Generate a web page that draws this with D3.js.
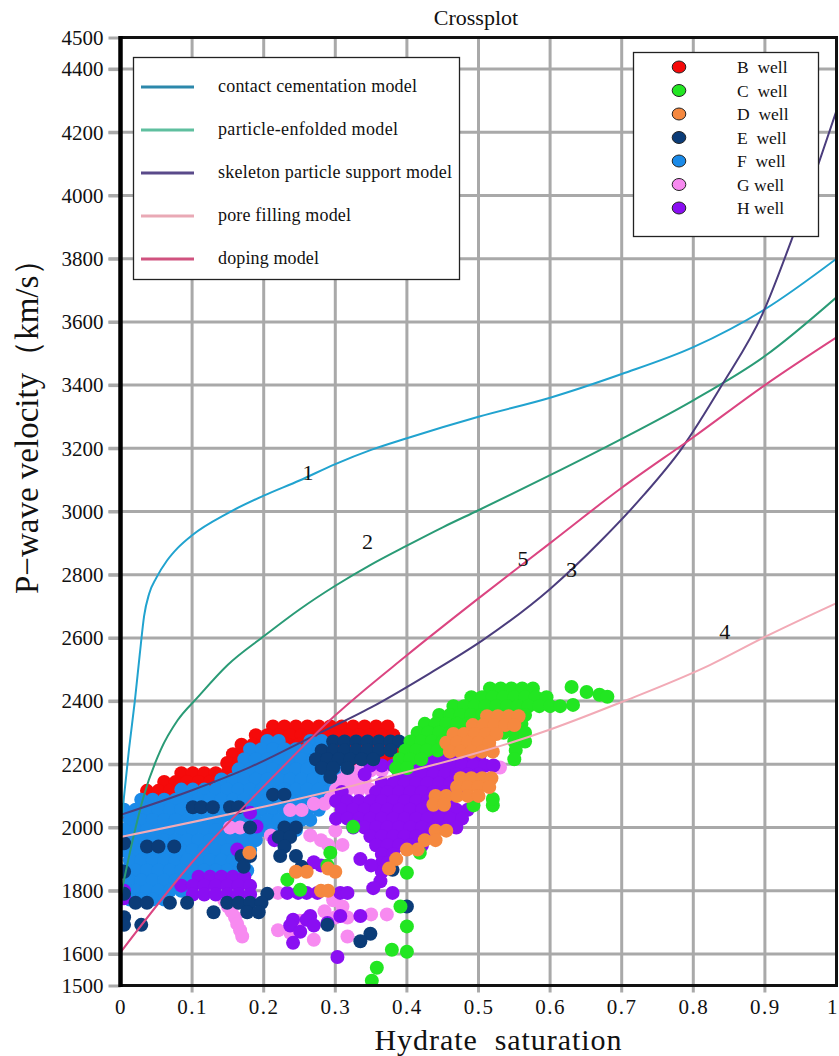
<!DOCTYPE html>
<html>
<head>
<meta charset="utf-8">
<script src="https://cdn.jsdelivr.net/npm/d3@7"></script>
<style>
  body { margin: 0; background: #fff; }
  svg { display: block; }
  text { font-family: "Liberation Serif", "Times New Roman", serif; fill: #111; }
</style>
</head>
<body>
<svg id="chart"></svg>
<script>
// ---- data ----
const xTicks = [0, 0.1, 0.2, 0.3, 0.4, 0.5, 0.6, 0.7, 0.8, 0.9, 1]
const xTickLabels = ['0', '0.1', '0.2', '0.3', '0.4', '0.5', '0.6', '0.7', '0.8', '0.9', '1']
const yTicks = [1500, 1600, 1800, 2000, 2200, 2400, 2600, 2800, 3000, 3200, 3400, 3600, 3800, 4000, 4200, 4400, 4500]

const modelNames = ['contact cementation model', 'particle-enfolded model', 'skeleton particle support model', 'pore filling model', 'doping model']
const curveTags = ['1', '2', '3', '4', '5']

// [saturation, velocity]
const contactCementation = [[0,1980],[.005,2100],[.012,2250],[.02,2400],[.027,2550],[.033,2670],[.04,2740],[.05,2790],[.065,2845],[.08,2885],[.1,2925],[.15,2995],[.2,3050],[.25,3098],[.3,3150],[.35,3195],[.4,3232],[.5,3300],[.6,3360],[.7,3435],[.8,3520],[.9,3640],[1,3800]]
const particleEnfolded = [[0,1780],[.017,1960],[.032,2096],[.056,2245],[.08,2340],[.107,2410],[.15,2515],[.2,2605],[.25,2690],[.3,2765],[.35,2832],[.4,2892],[.45,2950],[.5,3004],[.6,3115],[.7,3230],[.8,3352],[.9,3492],[1,3678]]
const skeletonSupport = [[0,2040],[.1,2118],[.181,2191],[.27,2290],[.35,2380],[.432,2488],[.506,2593],[.6,2755],[.67,2905],[.73,3050],[.784,3200],[.84,3400],[.897,3627],[.937,3858],[1,4269]]
const poreFilling = [[0,1970],[.32,2130],[.6,2310],[.7,2397],[.823,2514],[.9,2603],[1,2710]]
const doping = [[0,1605],[.1,1890],[.2,2130],[.3,2355],[.4,2545],[.5,2725],[.6,2900],[.7,3075],[.8,3235],[.9,3400],[1,3551]]

// where the curve numbers sit [saturation, velocity]
const tagAt = [[.262,3125],[.345,2905],[.63,2815],[.844,2620],[.562,2850]]

const wellNames = ['B  well', 'C  well', 'D  well', 'E  well', 'F  well', 'G well', 'H well']

// well samples as rows: [velocity, saturation, saturation, ...]
const wellB = [
  [2320,.213,.229,.245,.261,.277,.293,.309,.325,.341,.357,.373],
  [2292,.189,.205,.221,.237,.253,.269,.285,.301,.317,.333,.349,.365,.381],
  [2262,.169,.185,.201,.217,.233,.249,.265,.281,.297,.313,.329,.345,.361,.377,.389],
  [2232,.157,.173,.189,.205,.221,.237,.253,.269,.285,.301,.317,.333,.349,.365,.381],
  [2204,.149,.165,.181,.197,.309,.325,.341,.357,.373,.385],
  [2172,.085,.101,.117,.133,.149,.165],
  [2144,.061,.077,.093,.109,.125],
  [2116,.037,.053,.069,.085],
  [2030,.013,.029,.045,.061,.077],
  [2004,.013,.029]
]
const wellC = [
  [2440,.516,.531,.546,.561,.576],
  [2412,.49,.505,.52,.535,.55,.565,.58,.595],
  [2384,.465,.48,.495,.51,.525,.54,.555,.57,.585,.6,.614],
  [2356,.445,.46,.475,.49,.505,.52,.535,.55,.565],
  [2328,.425,.44,.455,.47,.485,.5,.515,.53,.545,.56],
  [2300,.415,.43,.445,.46,.475,.49,.505,.52,.535,.55,.565],
  [2272,.405,.42,.435,.45,.465,.48,.55,.565],
  [2244,.398,.413,.428,.443,.552],
  [2216,.39,.405,.42,.55],
  [2188,.385,.4],
  [2445,.63],[2429,.651],[2420,.669],[2414,.68],[2388,.632],
  [2070,.493,.52],[2090,.52],[2002,.325],[1920,.418,.293],[1880,.289],[1857,.4],
  [1835,.233],[1803,.251],[1750,.391],[1687,.4],[1613,.379],[1607,.4],[1556,.358],[1515,.351]
]
const wellD = [
  [2352,.512,.527,.542,.556],
  [2324,.492,.507,.522,.537,.55],
  [2296,.465,.48,.495,.51,.525],
  [2268,.455,.47,.485,.5,.515],
  [2240,.46,.475,.49,.505,.52],
  [2156,.475,.49,.505,.518],
  [2128,.47,.485,.5,.515],
  [2100,.44,.455,.47,.485,.5],
  [2072,.437,.452],
  [1990,.44,.455],[1960,.425,.44],[1930,.4,.415],[1900,.385],[1870,.375,.29],
  [1860,.3,.245,.26],[1920,.18],[1800,.28,.29]
]
const wellE = [
  [2272,.297,.313,.329,.345,.361,.377,.389],
  [2244,.281,.297,.313,.329,.345,.361,.377],
  [2216,.273,.289,.305,.321,.337,.353],
  [2188,.281,.297,.317],
  [2160,.293],
  [2104,.213,.229],
  [2064,.101,.113,.129,.153,.165],
  [2000,.181,.229,.245],
  [1970,.221,.237],
  [1940,.037,.053,.075,.229],
  [1950,.005],
  [1910,.169,.181,.223,.245],
  [1876,.172,.253],
  [1866,.38],
  [1860,.005],
  [1790,.005,.205],
  [1762,.021,.037,.069,.093,.149,.165,.181,.197],
  [1750,.4],
  [1732,.13,.177,.193],
  [1716,.005],
  [1692,.005,.029,.289],
  [1664,.349],
  [1640,.335]
]
const wellF = [
  [2274,.205,.221,.265,.281],
  [2248,.181,.197,.213,.229,.245,.261,.277,.293],
  [2216,.173,.189,.205,.221,.237,.253,.269,.285,.301],
  [2184,.165,.181,.197,.213,.229,.245,.261,.277,.293,.309],
  [2152,.141,.157,.173,.189,.205,.221,.237,.253,.269,.285,.301],
  [2120,.085,.101,.117,.133,.149,.165,.181,.197,.213,.229,.245,.261,.277,.293],
  [2088,.029,.045,.061,.077,.093,.109,.125,.141,.157,.173,.189,.205,.221,.237,.253,.269,.285],
  [2056,.005,.021,.037,.053,.069,.085,.101,.117,.133,.149,.165,.181,.197,.213,.229,.245,.261,.277],
  [2024,.013,.029,.045,.061,.077,.093,.109,.125,.141,.157,.173,.189,.205,.221,.237,.253,.265],
  [1992,.005,.021,.037,.053,.069,.085,.101,.117,.133,.149,.165,.181,.197,.213,.229,.245],
  [1960,.013,.029,.045,.061,.077,.093,.109,.125,.141,.157,.173,.189],
  [1928,.005,.021,.037,.053,.069,.085,.101,.117,.133,.149,.165,.181],
  [1896,.013,.029,.045,.061,.077,.093,.109,.125,.141,.157,.173],
  [1864,.005,.021,.037,.053,.069,.085,.101,.117,.133,.149,.165,.177],
  [1832,.013,.029,.045,.061,.077,.093,.109],
  [1800,.005,.021,.037,.053,.069,.085,.097],
  [1772,.013,.029,.045,.061]
]
const wellG = [
  [2236,.445,.465],
  [2180,.317,.333,.349,.365],
  [2150,.309,.325,.341],
  [2120,.301,.317,.333,.349],
  [2090,.293],[2075,.27,.285],[2055,.237,.253],[2000,.153,.167],[1990,.3],
  [1975,.265,.21],[1960,.28,.225],[1945,.29,.31],[2190,.516,.53],
  [1793,.22],[1770,.145,.297],[1750,.15,.31],[1735,.155,.285],[1725,.35,.372],
  [1715,.16,.3,.317],[1705,.25],[1695,.163],[1675,.167,.22],[1667,.237],[1655,.17,.317],[1645,.27]
]
const wellH = [
  [1844,.109,.125,.141,.157,.173],
  [1816,.085,.101,.117,.133,.149,.165,.181],
  [1788,.101,.117,.133,.149,.165,.181],
  [1800,.005],[1776,.005],
  [2047,.181],[2003,.19],[1930,.163],[1960,.215,.23],[1985,.23],
  [2224,.317,.437,.453,.469,.485,.501],
  [2196,.349,.365,.381,.397,.413,.429,.445,.461,.477,.493,.509,.521],
  [2168,.341,.389,.405,.421,.437,.453,.469,.485,.5],
  [2140,.365,.381,.397,.413,.429,.445,.461,.477],
  [2112,.309,.357,.373,.389,.405,.421,.437,.453,.469],
  [2084,.301,.317,.333,.349,.365,.381,.397,.413,.429,.445,.461],
  [2056,.309,.325,.341,.357,.373,.389,.405,.421,.437,.453,.469,.485],
  [2028,.301,.317,.333,.349,.365,.381,.397,.413,.429,.445,.461,.477],
  [2000,.325,.341,.357,.373,.389,.405,.421,.437,.453,.469],
  [1972,.349,.365,.381,.397,.413,.429],
  [1944,.357,.373,.389,.405,.421],
  [1916,.365,.381],[1888,.365,.373],[1860,.365],[1830,.363],
  [1793,.233,.248,.26,.275,.307,.317,.38],[1808,.353],[1900,.335],[1880,.28,.35],[1890,.27],
  [1720,.265,.307,.335],[1708,.241,.26],[1690,.237,.27],[1698,.289],[1670,.251],[1635,.241],[1590,.303]
]

// ---- styles ----
const curveColors = ['#21a3cf', '#2a9b76', '#4b3d7d', '#f2aab6', '#db4581']
const legendLineColors = ['#2c88ab', '#5fbf9f', '#5a4a8a', '#e9a9b5', '#d0527f']
const wellColors = ['#f50a0a', '#22e622', '#f5883f', '#0b3c78', '#1a8ae8', '#f78af0', '#8a0ef2']

const W = 839, H = 1056

const svg = d3.select('#chart').attr('width', W).attr('height', H)

const x = d3.scaleLinear().domain([0, 1]).range([120.5, 836.5])
const y = d3.scaleLinear().domain([1500, 4500]).range([985.5, 37.5])

// grid
svg.append('g').selectAll('line')
  .data(xTicks.slice(1, -1))
  .join('line')
  .attr('x1', d => x(d)).attr('x2', d => x(d))
  .attr('y1', y(4500)).attr('y2', y(1500) + 7)
  .attr('stroke', '#a9a9a9').attr('stroke-width', 3)

svg.append('g').selectAll('line')
  .data(yTicks.slice(1, -1))
  .join('line')
  .attr('x1', x(0) - 12).attr('x2', x(1))
  .attr('y1', d => y(d)).attr('y2', d => y(d))
  .attr('stroke', '#a9a9a9').attr('stroke-width', 3)

// tick labels through d3 axes
const yAxis = svg.append('g')
  .attr('transform', `translate(${x(0)},0)`)
  .call(d3.axisLeft(y).tickValues(yTicks).tickSize(12).tickPadding(5).tickFormat(d3.format('d')))
yAxis.select('.domain').remove()
yAxis.selectAll('line').attr('stroke', '#a9a9a9').attr('stroke-width', 3)
yAxis.selectAll('text').attr('font-size', 21).attr('fill', '#111')
  .attr('font-family', '"Liberation Serif", serif')

const xAxis = svg.append('g')
  .attr('transform', `translate(0,${y(1500)})`)
  .call(d3.axisBottom(x).tickValues(xTicks).tickSize(0).tickPadding(14).tickFormat((d, i) => xTickLabels[i]))
xAxis.select('.domain').remove()
xAxis.selectAll('text').attr('font-size', 21).attr('fill', '#111').attr('letter-spacing', 1.5)
  .attr('font-family', '"Liberation Serif", serif')
xAxis.selectAll('text').filter(d => d === 1).attr('text-anchor', 'end').attr('dx', 2)

// scatter of wells
svg.append('clipPath').attr('id', 'plotClip')
  .append('rect')
  .attr('x', x(0)).attr('y', y(4500))
  .attr('width', x(1) - x(0)).attr('height', y(1500) - y(4500))

const toPoints = rows => rows.flatMap(([v, ...xs]) => xs.map(s => ({ s, v })))
const wells = [wellB, wellC, wellD, wellE, wellF, wellG, wellH]
const drawOrder = [0, 4, 5, 6, 3, 1, 2]

const dots = svg.append('g').attr('clip-path', 'url(#plotClip)')
drawOrder.forEach(i => {
  dots.append('g').selectAll('circle')
    .data(toPoints(wells[i]))
    .join('circle')
    .attr('cx', d => x(d.s))
    .attr('cy', d => y(d.v))
    .attr('r', 7)
    .attr('fill', wellColors[i])
})

// model curves
const line = d3.line().x(d => x(d[0])).y(d => y(d[1])).curve(d3.curveMonotoneX)
const curves = [contactCementation, particleEnfolded, skeletonSupport, poreFilling, doping]
const curveG = svg.append('g').attr('clip-path', 'url(#plotClip)')
curves.forEach((c, i) => {
  curveG.append('path')
    .attr('d', line(c))
    .attr('fill', 'none')
    .attr('stroke', curveColors[i])
    .attr('stroke-width', 2)
})

svg.append('g').selectAll('text')
  .data(curveTags)
  .join('text')
  .attr('x', (d, i) => x(tagAt[i][0]))
  .attr('y', (d, i) => y(tagAt[i][1]))
  .attr('text-anchor', 'middle')
  .attr('dominant-baseline', 'central')
  .attr('font-size', 22)
  .text(d => d)

// frame
svg.append('rect')
  .attr('x', x(0)).attr('y', y(4500))
  .attr('width', x(1) - x(0)).attr('height', y(1500) - y(4500))
  .attr('fill', 'none').attr('stroke', '#111').attr('stroke-width', 3)
svg.append('line')
  .attr('x1', x(0)).attr('x2', x(0)).attr('y1', y(4500) - 1.5).attr('y2', y(1500) + 1.5)
  .attr('stroke', '#000').attr('stroke-width', 4.5)

// title and axis titles
svg.append('text').attr('x', 476).attr('y', 25).attr('text-anchor', 'middle')
  .attr('font-size', 22).text('Crossplot')

svg.append('text').attr('x', 498).attr('y', 1050).attr('text-anchor', 'middle')
  .attr('font-size', 30).attr('textLength', 247).style('white-space', 'pre')
  .text('Hydrate  saturation')

svg.append('text')
  .attr('transform', 'translate(38,594) rotate(-90)')
  .attr('text-anchor', 'start')
  .attr('font-size', 33)
  .text('P−wave velocity（km/s）')

// model legend
const leg1 = svg.append('g')
leg1.append('rect').attr('x', 133.5).attr('y', 57.5).attr('width', 326).attr('height', 222)
  .attr('fill', '#fff').attr('stroke', '#222').attr('stroke-width', 1.3)
const legWidths = [199, 180, 234, 133, 101]
modelNames.forEach((name, i) => {
  const ly = 87 + i * 43
  leg1.append('line').attr('x1', 141).attr('x2', 194).attr('y1', ly).attr('y2', ly)
    .attr('stroke', legendLineColors[i]).attr('stroke-width', 3)
  leg1.append('text').attr('x', 218).attr('y', ly + 5).attr('font-size', 18)
    .attr('textLength', legWidths[i]).text(name)
})

// well legend
const leg2 = svg.append('g')
leg2.append('rect').attr('x', 633.5).attr('y', 52.5).attr('width', 185).attr('height', 184)
  .attr('fill', '#fff').attr('stroke', '#222').attr('stroke-width', 1.3)
wellNames.forEach((name, i) => {
  const ly = 67 + i * 23.5
  leg2.append('ellipse').attr('cx', 679).attr('cy', ly).attr('rx', 6.8).attr('ry', 6)
    .attr('fill', wellColors[i]).attr('stroke', '#222').attr('stroke-width', 1)
  leg2.append('text').attr('x', 737).attr('y', ly + 6).attr('font-size', 17.5)
    .style('white-space', 'pre').text(name)
})
</script>
</body>
</html>
